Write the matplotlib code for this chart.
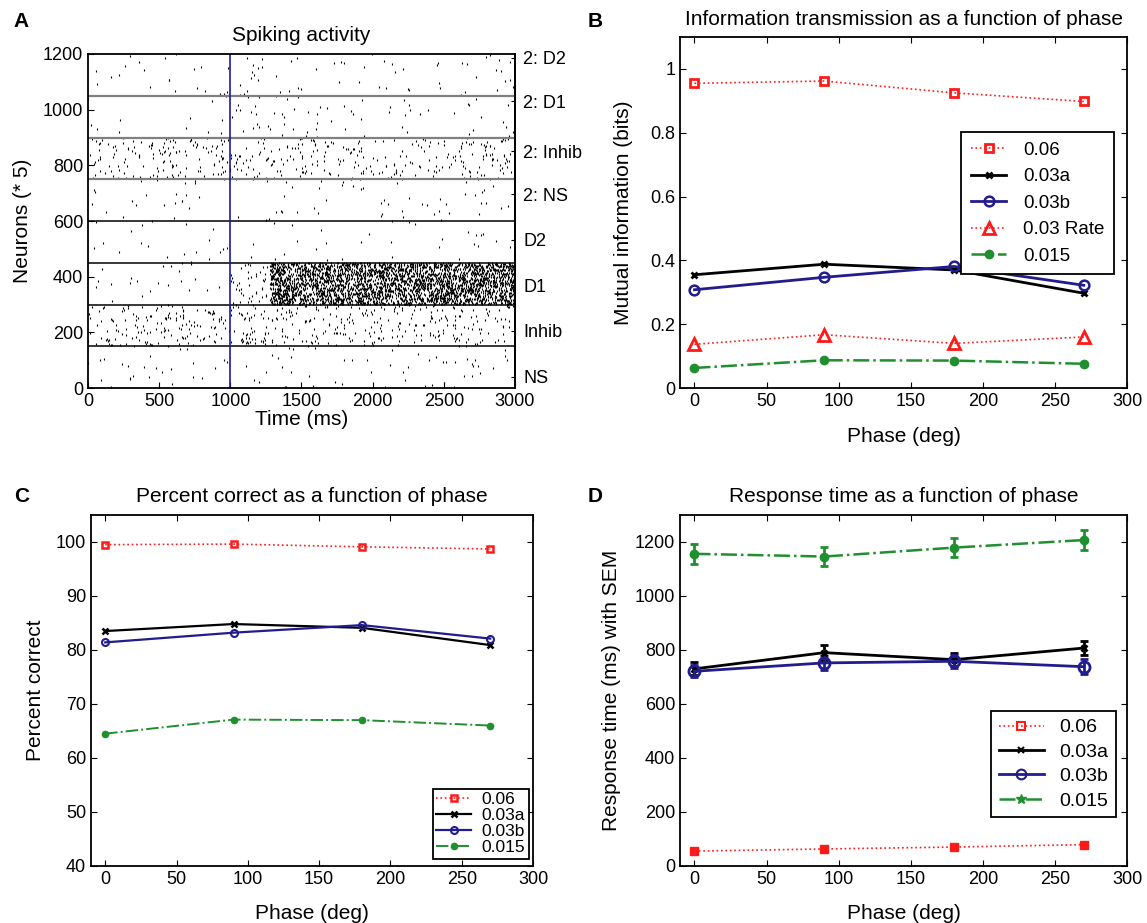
import numpy as np
import matplotlib
matplotlib.use('Agg')
import matplotlib.pyplot as plt
from matplotlib.lines import Line2D

plt.rcParams['font.family'] = ['Liberation Sans', 'DejaVu Sans']
plt.rcParams['xtick.direction'] = 'in'
plt.rcParams['ytick.direction'] = 'in'
plt.rcParams['axes.linewidth'] = 1.3

# ---- data ----
phase = [0, 90, 180, 270]

mi_006 = [0.955, 0.962, 0.925, 0.898]
mi_003a = [0.355, 0.388, 0.370, 0.297]
mi_003b = [0.308, 0.347, 0.381, 0.322]
mi_003rate = [0.137, 0.167, 0.140, 0.160]
mi_0015 = [0.063, 0.087, 0.086, 0.076]

pc_006 = [99.5, 99.6, 99.1, 98.7]
pc_003a = [83.5, 84.8, 84.1, 80.9]
pc_003b = [81.4, 83.2, 84.6, 82.1]
pc_0015 = [64.5, 67.1, 67.0, 66.0]

rt_006 = [55, 63, 70, 79]
rt_006_err = [4, 4, 4, 4]
rt_003a = [730, 790, 764, 807]
rt_003a_err = [24, 27, 25, 27]
rt_003b = [721, 752, 758, 738]
rt_003b_err = [22, 26, 24, 27]
rt_0015 = [1156, 1146, 1179, 1207]
rt_0015_err = [37, 36, 36, 37]

# raster: populations (bottom to top), 150 units each, spike counts before/after 1000 ms
pop_names = ['NS', 'Inhib', 'D1', 'D2', '2: NS', '2: Inhib', '2: D1', '2: D2']
pop_label_y = [40, 205, 370, 532, 697, 851, 1031, 1186]
spikes_pre = [25, 150, 22, 20, 22, 140, 12, 22]
spikes_post = [50, 300, 28, 30, 50, 250, 65, 55]
band_lines = [150, 300, 450, 600, 750, 900, 1050]
band_colors = ['black', 'black', 'black', 'black', 'gray', 'gray', 'gray']
d1_burst_start = 1280
d1_burst_spikes_per_row = 45

red = '#ff1a1a'
blue = '#231c8c'
green = '#1f8f2f'

fig = plt.figure(figsize=(11.47, 9.23), dpi=100)
axA = fig.add_axes([0.0767, 0.5796, 0.3723, 0.3619])
axB = fig.add_axes([0.5929, 0.5796, 0.3897, 0.3803])
axC = fig.add_axes([0.0793, 0.0618, 0.3854, 0.3803])
axD = fig.add_axes([0.5929, 0.0618, 0.3897, 0.3803])

# ---- A: raster (spike texture from a fixed seed) ----
rng = np.random.default_rng(3)
xs, ys = [], []
for i in range(len(pop_names)):
    lo = i * 150
    n1, n2 = spikes_pre[i], spikes_post[i]
    xs.append(rng.uniform(0, 1000, n1)); ys.append(rng.integers(lo, lo + 150, n1))
    xs.append(rng.uniform(1000, 3000, n2)); ys.append(rng.integers(lo, lo + 150, n2))
# D1 ramp and burst
xs.append(rng.uniform(1000, d1_burst_start, 35)); ys.append(rng.integers(300, 450, 35))
for row in range(301, 450, 2):
    t = rng.uniform(d1_burst_start, 3000, d1_burst_spikes_per_row)
    xs.append(t); ys.append(np.full(t.size, row))
xs = np.concatenate(xs); ys = np.concatenate(ys)
axA.plot(xs, ys, ls='none', marker='|', ms=2.0, mew=0.8, color='black')
for yl, c in zip(band_lines, band_colors):
    axA.axhline(yl, color=c, lw=1.1 if c == 'black' else 1.6)
axA.axvline(1000, color='#1a1aa0', lw=1.2)
axA.set_xlim(0, 3000)
axA.set_ylim(0, 1200)
axA.set_xticks([0, 500, 1000, 1500, 2000, 2500, 3000])
axA.set_yticks([0, 200, 400, 600, 800, 1000, 1200])
axA.set_xlabel('Time (ms)', fontsize=15, labelpad=0)
axA.set_ylabel('Neurons (* 5)', fontsize=15, labelpad=8)
axA.set_title('Spiking activity', fontsize=15, pad=9)
axA.tick_params(labelsize=13, length=4)
sec = axA.secondary_yaxis('right')
sec.set_yticks(pop_label_y, pop_names)
sec.tick_params(labelsize=13, length=3, direction='in', pad=6)

# ---- B ----
axB.plot(phase, mi_006, ls=':', color=red, lw=1.2, marker='s', ms=6, mfc='none', mew=2, label='0.06')
axB.plot(phase, mi_003a, ls='-', color='black', lw=2, marker='x', ms=5, mew=2, label='0.03a')
axB.plot(phase, mi_003b, ls='-', color=blue, lw=2, marker='o', ms=7, mfc='none', mew=1.8, label='0.03b')
axB.plot(phase, mi_003rate, ls=':', color=red, lw=1.2, marker='^', ms=9, mfc='none', mew=2, label='0.03 Rate')
axB.plot(phase, mi_0015, ls='-.', color=green, lw=1.8, marker='o', ms=6, label='0.015')
axB.set_xlim(-10, 300)
axB.set_ylim(0, 1.1)
axB.set_yticks([0, 0.2, 0.4, 0.6, 0.8, 1])
axB.set_yticklabels(['0', '0.2', '0.4', '0.6', '0.8', '1'])
axB.set_title('Information transmission as a function of phase', fontsize=15, pad=9)
axB.set_ylabel('Mutual information (bits)', fontsize=15, labelpad=12)
leg = axB.legend(loc='upper right', bbox_to_anchor=(0.971, 0.729), borderaxespad=0, fontsize=13.5,
                 fancybox=False, edgecolor='black', framealpha=1, handlelength=1.9,
                 borderpad=0.5, labelspacing=0.5, handletextpad=0.9)
leg.get_frame().set_linewidth(1.3)

# ---- C ----
axC.plot(phase, pc_006, ls=':', color=red, lw=1.2, marker='s', ms=5, mfc='none', mew=1.8, label='0.06')
axC.plot(phase, pc_003a, ls='-', color='black', lw=1.6, marker='x', ms=4, mew=1.8, label='0.03a')
axC.plot(phase, pc_003b, ls='-', color=blue, lw=1.6, marker='o', ms=5, mfc='none', mew=1.5, label='0.03b')
axC.plot(phase, pc_0015, ls='-.', color=green, lw=1.4, marker='o', ms=4.5, label='0.015')
axC.set_xlim(-10, 300)
axC.set_ylim(40, 105)
axC.set_yticks([40, 50, 60, 70, 80, 90, 100])
axC.set_title('Percent correct as a function of phase', fontsize=15, pad=9)
axC.set_ylabel('Percent correct', fontsize=15, labelpad=8)
leg = axC.legend(loc='lower right', bbox_to_anchor=(0.99, 0.02), borderaxespad=0, fontsize=12.5,
                 fancybox=False, edgecolor='black', framealpha=1, handlelength=2.0,
                 borderpad=0.2, labelspacing=0.05, handletextpad=0.6)
leg.get_frame().set_linewidth(1.3)

# ---- D ----
eb = dict(capsize=3, elinewidth=2, capthick=2)
axD.errorbar(phase, rt_006, yerr=rt_006_err, ls=':', color=red, lw=1.2, marker='s', ms=6, **eb)
axD.errorbar(phase, rt_003a, yerr=rt_003a_err, ls='-', color='black', lw=2, marker='x', ms=5, mew=2, **eb)
axD.errorbar(phase, rt_003b, yerr=rt_003b_err, ls='-', color=blue, lw=2, marker='o', ms=8, mfc='none', mew=2, **eb)
axD.errorbar(phase, rt_0015, yerr=rt_0015_err, ls='-.', color=green, lw=1.8, marker='o', ms=6, **eb)
axD.set_xlim(-10, 300)
axD.set_ylim(0, 1300)
axD.set_yticks([0, 200, 400, 600, 800, 1000, 1200])
axD.set_title('Response time as a function of phase', fontsize=15, pad=9)
axD.set_ylabel('Response time (ms) with SEM', fontsize=15, labelpad=10)
handles = [
    Line2D([], [], ls=':', color=red, lw=1.2, marker='s', ms=6, mfc='none', mew=1.5),
    Line2D([], [], ls='-', color='black', lw=2, marker='x', ms=4, mew=1.5),
    Line2D([], [], ls='-', color=blue, lw=2, marker='o', ms=7, mfc='none', mew=1.5),
    Line2D([], [], ls='-.', color=green, lw=1.8, marker='*', ms=7),
]
leg = axD.legend(handles, ['0.06', '0.03a', '0.03b', '0.015'], loc='upper right',
                 bbox_to_anchor=(0.975, (866 - 711) / 351), borderaxespad=0, fontsize=14,
                 fancybox=False, edgecolor='black', framealpha=1, handlelength=2.3,
                 borderpad=0.4, labelspacing=0.35, handletextpad=0.8)
leg.get_frame().set_linewidth(1.3)

for ax in (axB, axC, axD):
    ax.set_xticks([0, 50, 100, 150, 200, 250, 300])
    ax.set_xlabel('Phase (deg)', fontsize=15, labelpad=12)
    ax.tick_params(labelsize=13, length=4, top=True, right=True)

for lab, x, y in [('A', 0.012, 0.977), ('B', 0.512, 0.977), ('C', 0.012, 0.462), ('D', 0.512, 0.462)]:
    fig.text(x, y, lab, fontsize=15, fontweight='bold', va='center')

fig.savefig('out.png', dpi=100)
